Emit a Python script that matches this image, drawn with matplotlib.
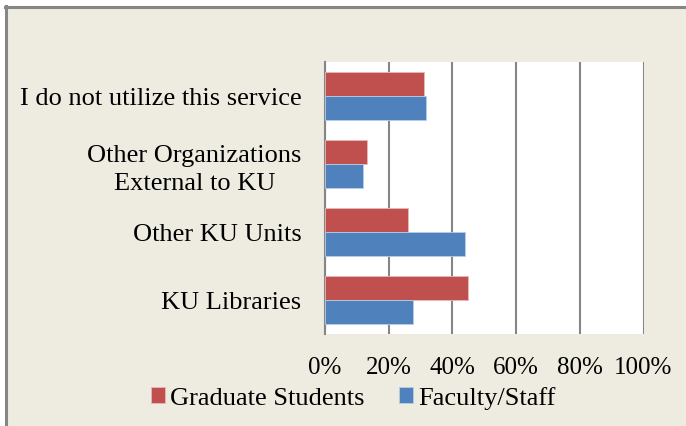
import matplotlib.pyplot as plt
import numpy as np
from matplotlib.patches import Rectangle
from matplotlib.lines import Line2D

categories = ["KU Libraries", "Other KU Units",
              "Other Organizations\nExternal to KU", "I do not utilize this service"]
graduate = [44.8, 26.0, 13.2, 31.1]
faculty = [27.7, 43.8, 12.0, 31.7]
xticks = [0, 20, 40, 60, 80, 100]

plt.rcParams['font.family'] = ['Liberation Serif', 'DejaVu Serif']
fs = 19

fig = plt.figure(figsize=(6.86, 4.27), dpi=100)
fig.patch.set_facecolor('white')

# beige panel with grey frame on top/left
W, H = 686, 427
fig.add_artist(Rectangle((6 / W, 0), 1, 1 - 8 / H, transform=fig.transFigure,
                         facecolor='#EEECE1', edgecolor='none', zorder=-5))
fig.add_artist(Line2D([5.5 / W, 5.5 / W], [0, 1 - 6.5 / H], transform=fig.transFigure,
                      color='#868686', lw=2.2, zorder=-4))
fig.add_artist(Line2D([4.5 / W, 1], [1 - 7.5 / H, 1 - 7.5 / H], transform=fig.transFigure,
                      color='#868686', lw=2.2, zorder=-4))

ax = fig.add_axes([325 / W, 1 - 335 / H, (643.5 - 325) / W, (335 - 63) / H])
ax.set_facecolor('white')

y = np.arange(len(categories))
h = 0.36
ax.barh(y + h / 2, graduate, height=h, color='#C0504D', edgecolor='#E6B9B8',
        linewidth=0.6, label='Graduate Students', zorder=3)
ax.barh(y - h / 2, faculty, height=h, color='#4F81BD', edgecolor='#B9CDE5',
        linewidth=0.6, label='Faculty/Staff', zorder=3)

ax.set_xlim(0, 100)
ax.set_ylim(-0.5, len(categories) - 0.5)
ax.set_xticks(xticks)
ax.set_xticklabels([f"{t}%" for t in xticks], fontsize=18)
ax.set_yticks(y)
ax.set_yticklabels(categories, fontsize=fs, multialignment='center', linespacing=1.3)
ax.tick_params(axis='x', length=0, pad=16)
ax.tick_params(axis='y', length=0, pad=17)
ax.grid(axis='x', color='#868686', lw=1.5, zorder=1)
for s in ['top', 'right', 'bottom']:
    ax.spines[s].set_visible(False)
ax.spines['left'].set_color('#868686')
ax.spines['left'].set_linewidth(1.5)

fig.legend(loc='center', bbox_to_anchor=(353 / W, 1 - 399 / H), ncol=2, frameon=False,
           fontsize=fs, handlelength=0.53, handleheight=0.53, handletextpad=0.21,
           columnspacing=1.29, borderaxespad=0, borderpad=0)

fig.savefig('out.png', dpi=100)
